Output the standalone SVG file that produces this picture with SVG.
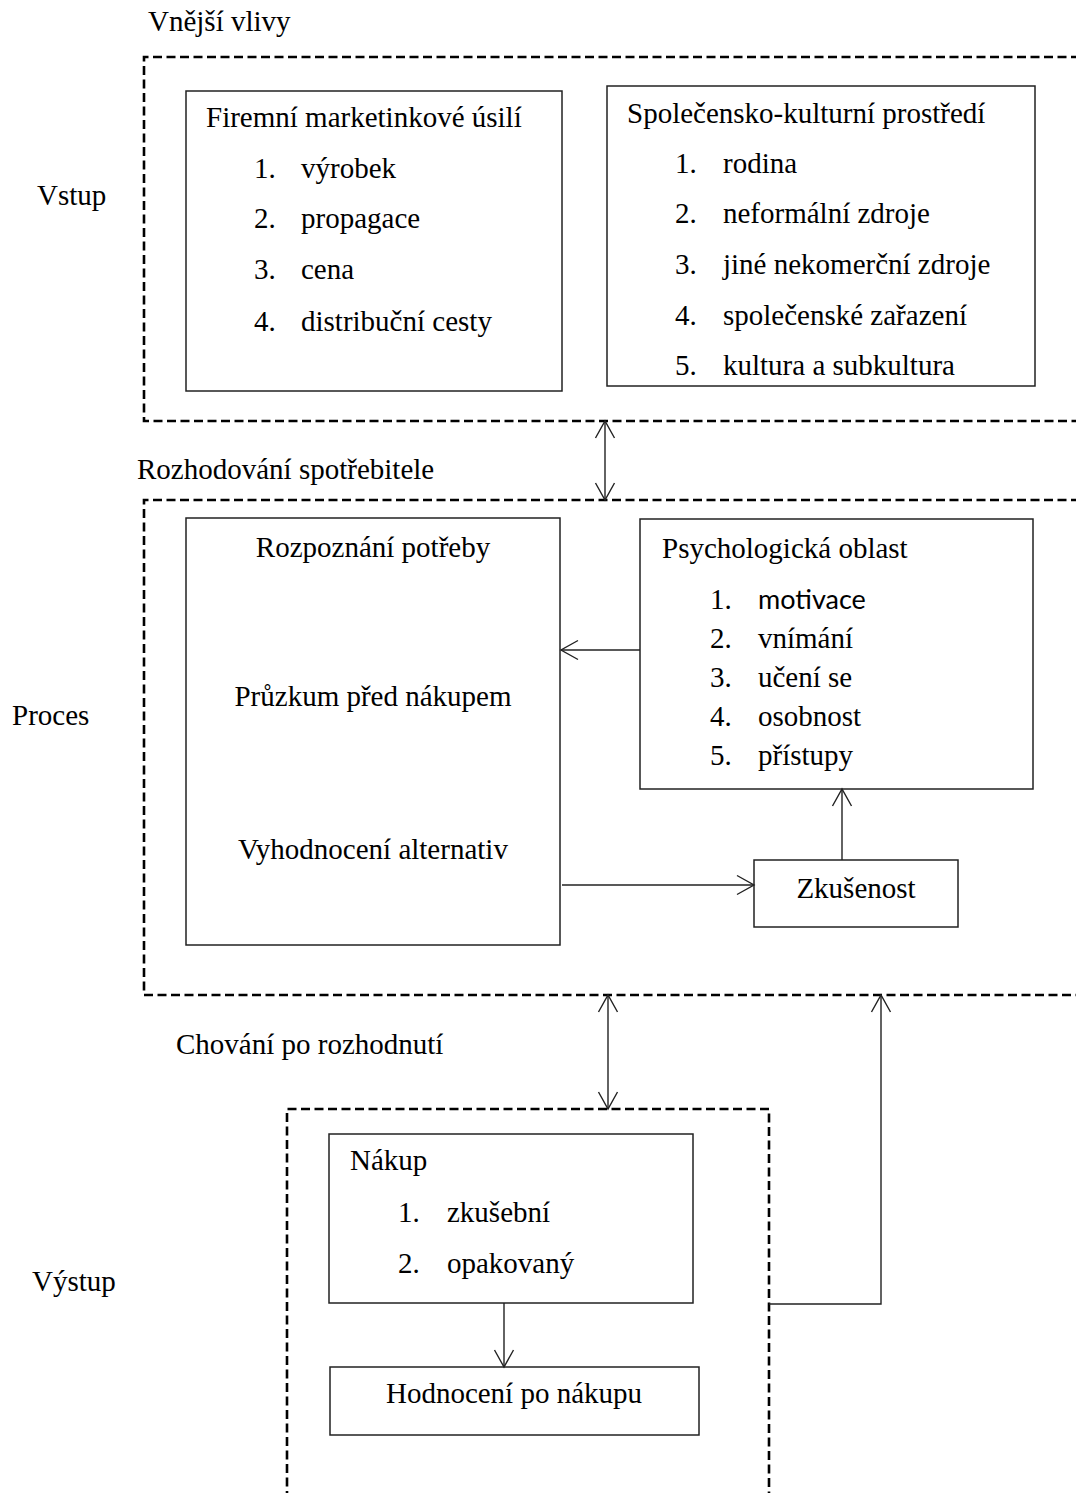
<svg xmlns="http://www.w3.org/2000/svg" width="1076" height="1493" viewBox="0 0 1076 1493">
<style>
text{font-family:"Liberation Serif","Times New Roman",serif;font-size:29px;fill:#000}
.c{text-anchor:middle}
.box{fill:#fff;stroke:#222;stroke-width:1.5}
.dash{fill:none;stroke:#000;stroke-width:2.6;stroke-dasharray:9 4.5}
.con{fill:none;stroke:#222;stroke-width:1.4}
.sans{font-family:Lato,"Open Sans",sans-serif;font-size:27px}
</style>
<defs>
<marker id="ah" viewBox="0 0 20 22" refX="18" refY="11" markerWidth="20" markerHeight="22" markerUnits="userSpaceOnUse" orient="auto-start-reverse">
<path d="M1,1.5 L18,11 L1,20.5" fill="none" stroke="#222" stroke-width="1.4"/>
</marker>
</defs>
<rect width="1076" height="1493" fill="#fff"/>

<g id="zones">
<path class="dash" d="M1080,57 H144 V421 H1080"/>
<path class="dash" d="M1080,500 H144 V995 H1080"/>
<path class="dash" d="M287,1500 V1109 H769 V1500"/>
<text x="148" y="31">Vnější vlivy</text>
<text x="137" y="479">Rozhodování spotřebitele</text>
<text x="176" y="1054">Chování po rozhodnutí</text>
<text x="37" y="205">Vstup</text>
<text x="12" y="725">Proces</text>
<text x="32" y="1291">Výstup</text>
</g>

<g id="firemni">
<rect class="box" x="186" y="91" width="376" height="300"/>
<text x="206" y="127">Firemní marketinkové úsilí</text>
<text x="254" y="178">1.</text><text x="301" y="178">výrobek</text>
<text x="254" y="228">2.</text><text x="301" y="228">propagace</text>
<text x="254" y="279">3.</text><text x="301" y="279">cena</text>
<text x="254" y="331">4.</text><text x="301" y="331">distribuční cesty</text>
</g>

<g id="spolecensko">
<rect class="box" x="607" y="86" width="428" height="300"/>
<text x="627" y="123">Společensko-kulturní prostředí</text>
<text x="675" y="173">1.</text><text x="723" y="173">rodina</text>
<text x="675" y="223">2.</text><text x="723" y="223">neformální zdroje</text>
<text x="675" y="274">3.</text><text x="723" y="274">jiné nekomerční zdroje</text>
<text x="675" y="325">4.</text><text x="723" y="325">společenské zařazení</text>
<text x="675" y="375">5.</text><text x="723" y="375">kultura a subkultura</text>
</g>

<g id="rozhodovani">
<rect class="box" x="186" y="518" width="374" height="427"/>
<text class="c" x="373" y="557">Rozpoznání potřeby</text>
<text class="c" x="373" y="706">Průzkum před nákupem</text>
<text class="c" x="373" y="859">Vyhodnocení alternativ</text>
</g>

<g id="psychologicka">
<rect class="box" x="640" y="519" width="393" height="270"/>
<text x="662" y="558">Psychologická oblast</text>
<text x="710" y="609">1.</text><text class="sans" x="758" y="609">motivace</text>
<text x="710" y="648">2.</text><text x="758" y="648">vnímání</text>
<text x="710" y="687">3.</text><text x="758" y="687">učení se</text>
<text x="710" y="726">4.</text><text x="758" y="726">osobnost</text>
<text x="710" y="765">5.</text><text x="758" y="765">přístupy</text>
</g>

<g id="zkusenost">
<rect class="box" x="754" y="860" width="204" height="67"/>
<text class="c" x="856" y="898">Zkušenost</text>
</g>

<g id="nakup">
<rect class="box" x="329" y="1134" width="364" height="169"/>
<text x="350" y="1170">Nákup</text>
<text x="398" y="1222">1.</text><text x="447" y="1222">zkušební</text>
<text x="398" y="1273">2.</text><text x="447" y="1273">opakovaný</text>
</g>

<g id="hodnoceni">
<rect class="box" x="330" y="1367" width="369" height="68"/>
<text class="c" x="514" y="1403">Hodnocení po nákupu</text>
</g>

<g id="connectors">
<line class="con" x1="605" y1="421" x2="605" y2="500" marker-start="url(#ah)" marker-end="url(#ah)"/>
<line class="con" x1="640" y1="650" x2="561" y2="650" marker-end="url(#ah)"/>
<line class="con" x1="562" y1="885" x2="754" y2="885" marker-end="url(#ah)"/>
<line class="con" x1="842" y1="860" x2="842" y2="789" marker-end="url(#ah)"/>
<line class="con" x1="608" y1="995" x2="608" y2="1109" marker-start="url(#ah)" marker-end="url(#ah)"/>
<path class="con" d="M769,1304 H881 V995" marker-end="url(#ah)"/>
<line class="con" x1="504" y1="1303" x2="504" y2="1367" marker-end="url(#ah)"/>
</g>
</svg>
